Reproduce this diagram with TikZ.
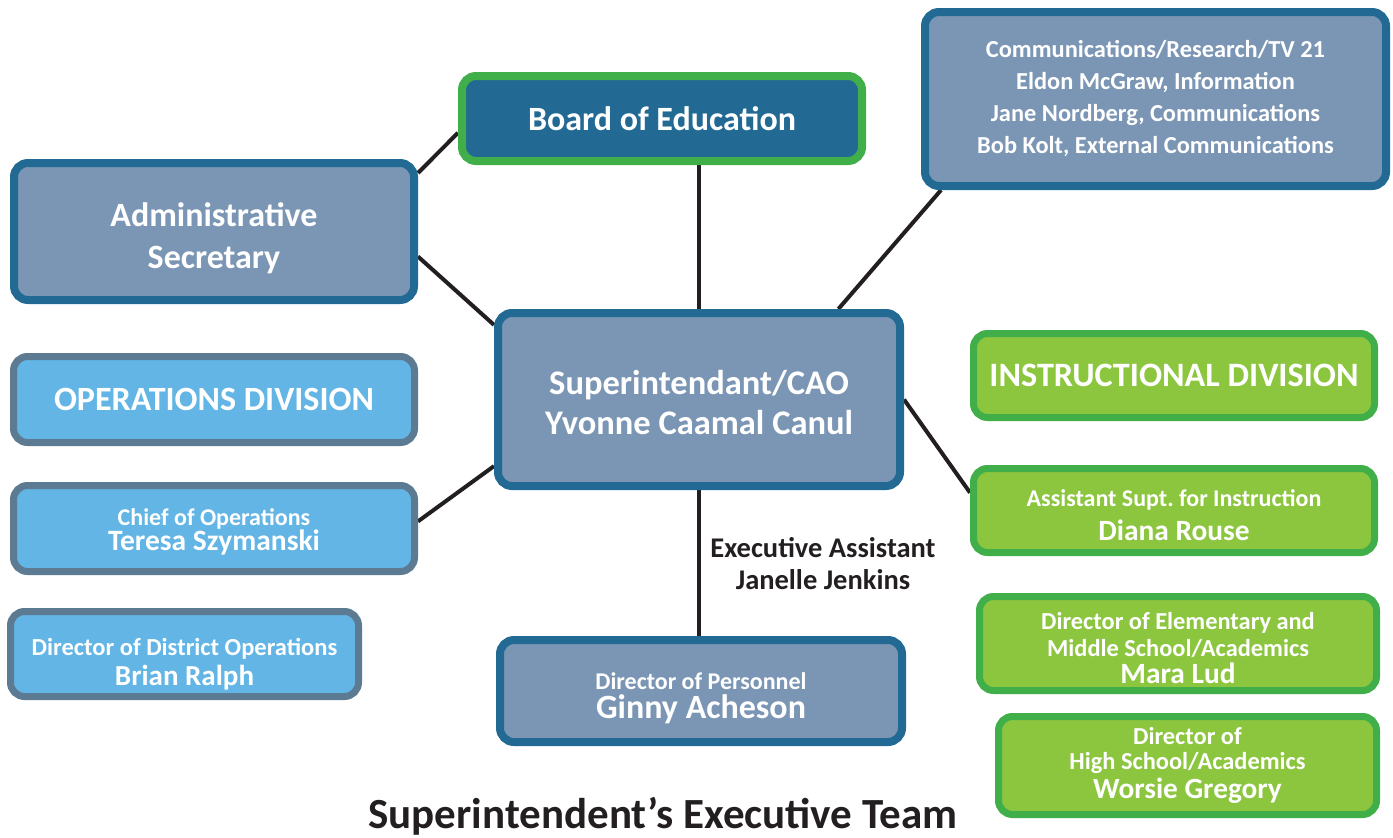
\documentclass[tikz,border=0pt]{standalone}
\usepackage{fontspec}
\setmainfont{Carlito}
\usepackage{xcolor}
\usepackage{tikz}
\usetikzlibrary{positioning,calc,backgrounds}

\definecolor{deepblue}{RGB}{34,106,148}
\definecolor{slate}{RGB}{123,150,180}
\definecolor{leaf}{RGB}{64,174,73}
\definecolor{lime}{RGB}{140,198,63}
\definecolor{sky}{RGB}{98,181,229}
\definecolor{steel}{RGB}{92,122,146}
\definecolor{ink}{RGB}{35,31,32}

\newcommand{\fs}[2]{\fontsize{#1}{#2}\selectfont}
% invisible strut to push a text block down inside its box
\newcommand{\topgap}[1]{\rule{0pt}{#1}}

\begin{document}
\begin{tikzpicture}[
    x=1pt, y=-1pt,
    box/.style={rounded corners=14pt, text=white, align=center, inner sep=0pt},
    exec/.style={box, draw=deepblue, fill=slate, line width=8pt},
    brd/.style={box, draw=leaf, fill=deepblue, line width=8pt},
    opsbox/.style={box, draw=steel, fill=sky, line width=7pt},
    insbox/.style={box, draw=leaf, fill=lime, line width=7pt},
    link/.style={draw=ink, line width=4pt}
]
\useasboundingbox (0,0) rectangle (1393,838);

% ---- centre column ----
\node[brd, font=\bfseries\fs{34}{40}, minimum width=400pt, minimum height=85pt] (board) at (662,118.5) {Board of Education};
\node[exec, font=\bfseries\fs{34.5}{40}, minimum width=402pt, minimum height=173pt] (sup) at (699,399.5) {\topgap{30pt}Superintendant/CAO\\ Yvonne Caamal Canul};
\node[exec, font=\bfseries\fs{24}{29}, minimum width=402pt, minimum height=102pt] (pers) at (701,691) {\topgap{32pt}Director of Personnel\\ \fs{34}{29}Ginny Acheson};

% ---- left column ----
\node[exec, font=\bfseries\fs{34}{42}, minimum width=400pt, minimum height=137pt] (admin) at (214,231.5) {\topgap{37pt}Administrative\\ Secretary};
\node[opsbox, font=\bfseries\fs{34}{40}, minimum width=401pt, minimum height=86pt] (ops) at (214,399.5) {OPERATIONS DIVISION};
\node[opsbox, font=\bfseries\fs{24}{24}, minimum width=401pt, minimum height=86pt] (chief) at (214,528.5) {\topgap{24pt}Chief of Operations\\ \fs{29.5}{24}Teresa Szymanski};
\node[opsbox, font=\bfseries\fs{24.5}{30}, minimum width=348pt, minimum height=85pt] (dops) at (184.5,654) {\topgap{38pt}Director of District Operations\\ \fs{29}{30}Brian Ralph};

% ---- right column ----
\node[exec, font=\bfseries\fs{24.4}{32}, minimum width=461pt, minimum height=174pt] (comms) at (1155.5,99) {Communications/Research/TV 21\\ Eldon McGraw, Information\\ Jane Nordberg, Communications\\ Bob Kolt, External Communications};
\node[insbox, font=\bfseries\fs{34.2}{40}, minimum width=401pt, minimum height=84pt] (instr) at (1174,375.5) {INSTRUCTIONAL DIVISION};
\node[insbox, font=\bfseries\fs{24}{34}, minimum width=401pt, minimum height=84pt] (asst) at (1174,510.5) {\topgap{26pt}Assistant Supt.\ for Instruction\\ \fs{29.4}{34}Diana Rouse};
\node[insbox, font=\bfseries\fs{24.4}{27}, minimum width=397pt, minimum height=94pt] (elem) at (1178,643.5) {\topgap{26pt}Director of Elementary and\\ Middle School/Academics\\ \fs{29.4}{27}Mara Lud};
\node[insbox, font=\bfseries\fs{24.4}{25}, minimum width=378pt, minimum height=98pt] (high) at (1187.5,765.5) {Director of\\ High School/Academics\\[4.5pt] \fs{29.3}{25}Worsie Gregory};

% ---- labels ----
\node[font=\bfseries\fs{28.5}{32}, text=ink, align=center] (assist) at (823,564) {Executive Assistant\\ Janelle Jenkins};
\node[font=\bfseries\fs{43}{46}, text=ink] (title) at (663,816) {Superintendent’s Executive Team};

% ---- connectors ----
\begin{pgfonlayer}{background}
\draw[link] (sup.north) -- (sup.north |- board.south);
\draw[link] (sup.south) -- (sup.south |- pers.north);
\draw[link] (admin.16) -- (board.184);
\draw[link] (admin.-7) -- (sup.160);
\draw[link] (comms.203.5) -- (sup.33);
\draw[link] (sup.0) -- (asst.175);
\draw[link] (sup.198) -- (chief.2);
\end{pgfonlayer}
\end{tikzpicture}
\end{document}
